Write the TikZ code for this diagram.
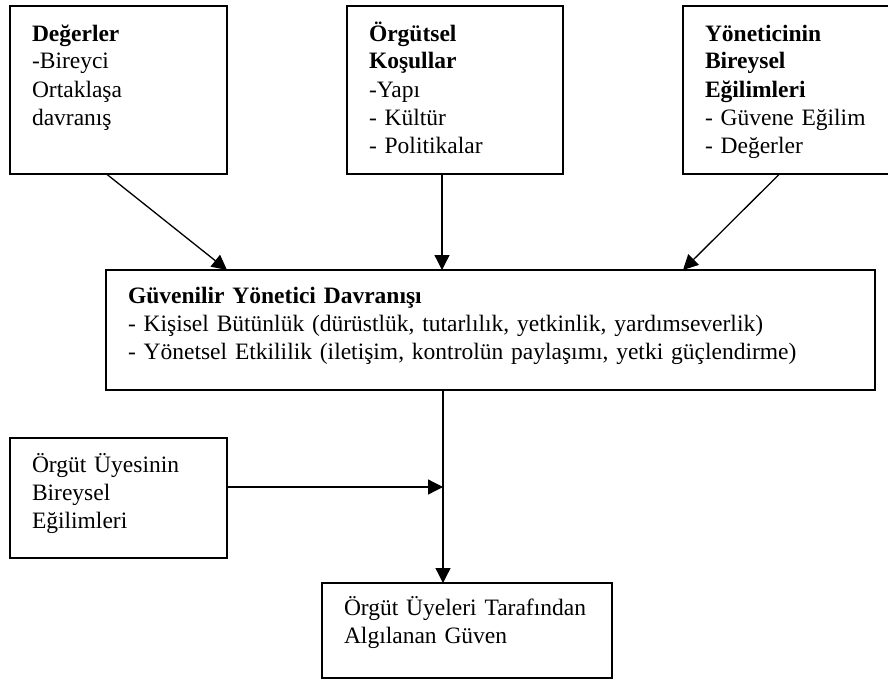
\documentclass[tikz,border=0pt]{standalone}
\usepackage{fontspec}
\setmainfont{Liberation Serif}
\usetikzlibrary{arrows.meta}

\begin{document}
\begin{tikzpicture}[x=1pt,y=-1pt,
  kutu/.style={draw,line width=1.5pt,anchor=north west,align=left,
    inner xsep=22pt,inner ysep=0pt,outer sep=0pt,
    font=\fontsize{23.5}{28}\selectfont},
  ok/.style={line width=1.3pt,-{Triangle[length=15pt,width=15pt]}}]
\useasboundingbox (0,0) rectangle (888,680);

\node[kutu,text width=173pt,text height=35pt,text depth=133pt] (degerler) at (10,6)
  {\textbf{Değerler}\\-Bireyci\\Ortaklaşa\\davranış};
\node[kutu,text width=172pt,text height=35pt,text depth=133pt] (orgutsel) at (347,6)
  {\textbf{Örgütsel}\\\textbf{Koşullar}\\-Yapı\\- Kültür\\- Politikalar};
\node[kutu,text width=163pt,text height=35pt,text depth=133pt] (yonetici) at (683,6)
  {\textbf{Yöneticinin}\\\textbf{Bireysel}\\\textbf{Eğilimleri}\\- Güvene Eğilim\\- Değerler};

\node[kutu,text width=725pt,text height=33pt,text depth=87pt] (davranis) at (106,270)
  {\textbf{Güvenilir Yönetici Davranışı}\\
   - Kişisel Bütünlük (dürüstlük, tutarlılık, yetkinlik, yardımseverlik)\\
   - Yönetsel Etkililik (iletişim, kontrolün paylaşımı, yetki güçlendirme)};

\node[kutu,text width=173pt,text height=34pt,text depth=86pt] (uye) at (10,438)
  {Örgüt Üyesinin\\Bireysel\\Eğilimleri};
\node[kutu,text width=246pt,text height=32pt,text depth=63pt] (algi) at (322,583)
  {Örgüt Üyeleri Tarafından\\Algılanan Güven};

% oklar
\draw[ok] ([xshift=-12pt]degerler.south) -- ([xshift=121pt]davranis.north west);
\draw[ok] ([xshift=-13pt]orgutsel.south) -- ([xshift=-13pt]orgutsel.south |- davranis.north);
\draw[ok] ([xshift=-7pt]yonetici.south) -- ([xshift=577pt]davranis.north west);

\coordinate (kavsak) at (443,487);
\draw[ok] (davranis.south -| kavsak) -- (algi.north -| kavsak);
\draw[ok] (uye.east |- kavsak) -- (kavsak);
\end{tikzpicture}
\end{document}
